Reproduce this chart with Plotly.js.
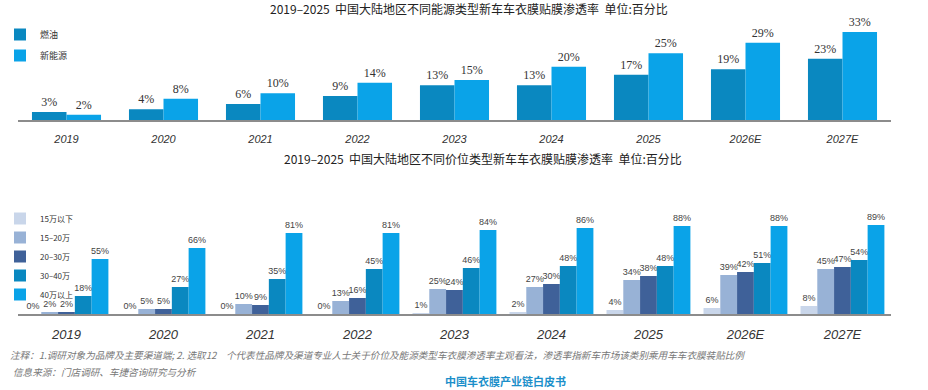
<!DOCTYPE html>
<html>
<head>
<meta charset="utf-8">
<script src="https://cdn.plot.ly/plotly-3.0.1.min.js"></script>
<style>html,body{margin:0;padding:0;background:#fff;}#chart{width:928px;height:390px;}</style>
</head>
<body>
<div id="chart"></div>
<script>
// ---- data ----
const years = ['2019','2020','2021','2022','2023','2024','2025','2026E','2027E'];
const energyNames = ['燃油','新能源'];
const fuel = [3,4,6,9,13,13,17,19,23];
const nev = [2,8,10,14,15,20,25,29,33];
const priceNames = ['15万以下','15–20万','20–30万','30–40万','40万以上'];
const p1 = [0,0,0,0,1,2,4,6,8];
const p2 = [2,5,10,13,25,27,34,39,45];
const p3 = [2,5,9,16,24,30,38,42,47];
const p4 = [18,27,35,45,46,48,48,51,54];
const p5 = [55,66,81,81,84,86,88,88,89];
const title1 = '2019–2025  中国大陆地区不同能源类型新车车衣膜贴膜渗透率  单位:百分比';
const title2 = '2019–2025  中国大陆地区不同价位类型新车车衣膜贴膜渗透率  单位:百分比';
const note1 = '注释：1.调研对象为品牌及主要渠道端; 2. 选取12　个代表性品牌及渠道专业人士关于价位及能源类型车衣膜渗透率主观看法，渗透率指新车市场该类别乘用车车衣膜装贴比例';
const note2 = '信息来源：门店调研、车捷咨询研究与分析';
const brand = '中国车衣膜产业链白皮书';

const W = 928, H = 390;
const px = x => x / W;
const py = y => 1 - y / H;
const pct = v => v.map(d => d + '%');

const cjk = '"Noto Sans CJK SC", "Noto Sans", sans-serif';
const topColors = ['#0a88c0', '#0aa3e8'];
const botColors = ['#c9d6ea', '#98b2d6', '#3f6199', '#0a88c0', '#0aa3e8'];

const traces = [];
[fuel, nev].forEach((vals, i) => {
  const w = 0.356;
  traces.push({
    type: 'bar', x: years, y: vals, name: energyNames[i],
    xaxis: 'x', yaxis: 'y', legend: 'legend', legendgroup: 'e' + i,
    width: w, offset: -w + i * w,
    marker: {color: topColors[i]},
    text: pct(vals), textposition: 'outside', cliponaxis: false, constraintext: 'none',
    textfont: {family: '"Liberation Serif", "DejaVu Serif", serif', size: 12, color: '#333'},
    hoverinfo: 'skip'
  });
});
[p1, p2, p3, p4, p5].forEach((vals, j) => {
  const w = 0.173;
  traces.push({
    type: 'bar', x: years, y: vals, name: priceNames[j],
    xaxis: 'x2', yaxis: 'y2', legend: 'legend2', legendgroup: 'p' + j,
    width: w, offset: -0.433 + j * w,
    marker: {color: botColors[j]},
    text: pct(vals), textposition: 'outside', cliponaxis: false, constraintext: 'none',
    textfont: {family: '"Liberation Sans", Arial, sans-serif', size: 9, color: '#444'},
    hoverinfo: 'skip'
  });
});

const xdom = [px(18), px(891)];
const xaxisBase = {
  type: 'category', domain: xdom, showline: true, linecolor: '#8c8c8c', linewidth: 1.5,
  ticks: '', showgrid: false, zeroline: false, fixedrange: true
};
const layout = {
  width: W, height: H, margin: {l: 0, r: 0, t: 0, b: 0, autoexpand: false},
  paper_bgcolor: '#fff', plot_bgcolor: 'rgba(0,0,0,0)',
  barmode: 'group', showlegend: true,
  font: {family: cjk, color: '#333'},
  xaxis: Object.assign({}, xaxisBase, {anchor: 'y', ticklabelstandoff: 8,
    tickfont: {family: '"Liberation Sans", Arial, sans-serif', size: 11, color: '#333', style: 'italic'}}),
  yaxis: {domain: [py(120), py(20)], range: [0, 37.5], visible: false, fixedrange: true},
  xaxis2: Object.assign({}, xaxisBase, {anchor: 'y2', ticklabelstandoff: 8,
    tickfont: {family: '"Liberation Sans", Arial, sans-serif', size: 13, color: '#333', style: 'italic'}}),
  yaxis2: {domain: [py(314), py(200)], range: [0, 114], visible: false, fixedrange: true},
  legend: {x: px(0), y: py(20), xanchor: 'left', yanchor: 'top', orientation: 'v',
    tracegroupgap: 2, bgcolor: 'rgba(0,0,0,0)', font: {family: cjk, size: 9, color: '#333'}},
  legend2: {x: px(0), y: py(204), xanchor: 'left', yanchor: 'top', orientation: 'v',
    tracegroupgap: 0, bgcolor: 'rgba(0,0,0,0)', font: {family: cjk, size: 8, color: '#333'}},
  annotations: [
    {text: title1, xref: 'paper', yref: 'paper', x: px(469), y: py(8), xanchor: 'center', yanchor: 'middle',
      showarrow: false, font: {family: cjk, size: 12, color: '#222'}},
    {text: title2, xref: 'paper', yref: 'paper', x: px(483), y: py(158), xanchor: 'center', yanchor: 'middle',
      showarrow: false, font: {family: cjk, size: 12, color: '#222'}},
    {text: note1, xref: 'paper', yref: 'paper', x: px(8), y: py(355), xanchor: 'left', yanchor: 'middle',
      showarrow: false, font: {family: cjk, size: 9.6, color: '#777', style: 'italic'}},
    {text: note2, xref: 'paper', yref: 'paper', x: px(11), y: py(372), xanchor: 'left', yanchor: 'middle',
      showarrow: false, font: {family: cjk, size: 9.6, color: '#777', style: 'italic'}},
    {text: '<b>' + brand + '</b>', xref: 'paper', yref: 'paper', x: px(505), y: py(381), xanchor: 'center', yanchor: 'middle',
      showarrow: false, font: {family: cjk, size: 11, color: '#1b8fca'}}
  ]
};
Plotly.newPlot('chart', traces, layout, {staticPlot: true, displayModeBar: false});
</script>
</body>
</html>
